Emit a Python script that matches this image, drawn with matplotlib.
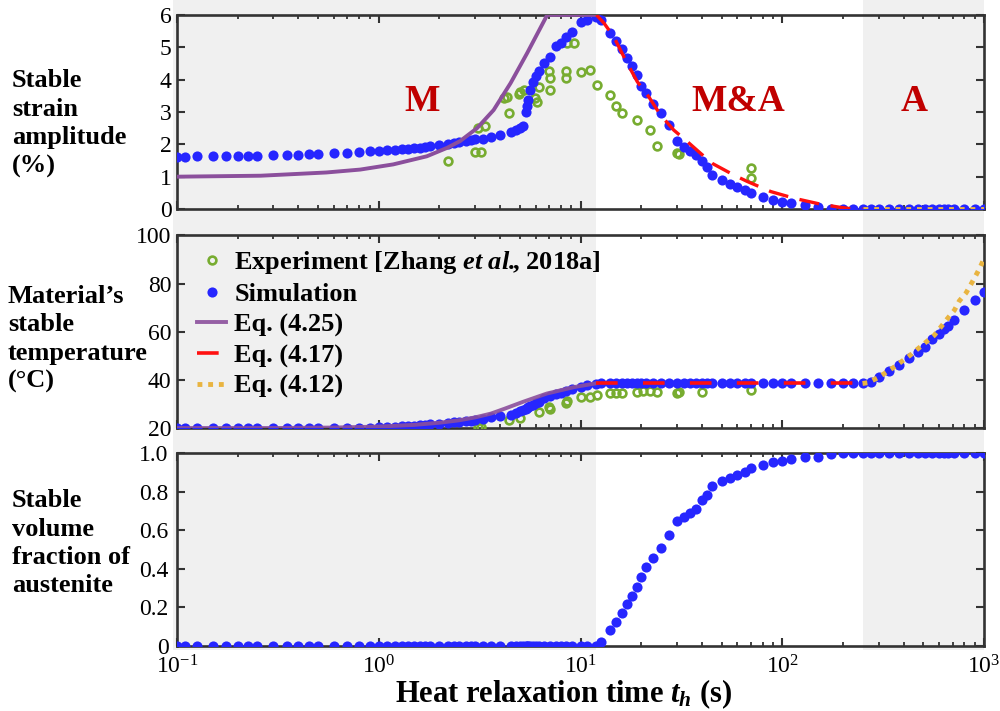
import numpy as np
import matplotlib
matplotlib.use("Agg")
import matplotlib.pyplot as plt
from matplotlib.ticker import FixedLocator, LogLocator, NullFormatter, FixedFormatter

plt.rcParams['font.family'] = ['Liberation Serif', 'DejaVu Serif']
plt.rcParams['mathtext.fontset'] = 'custom'
plt.rcParams['mathtext.rm'] = 'Liberation Serif'
plt.rcParams['mathtext.it'] = 'Liberation Serif:italic'
plt.rcParams['mathtext.bf'] = 'Liberation Serif:bold'
plt.rcParams['mathtext.bfit'] = 'Liberation Serif:italic:bold'

# ---------------- data ----------------
sim_t = [0.1, 0.11, 0.125, 0.15, 0.175, 0.2, 0.225, 0.25, 0.3, 0.35,
         0.4, 0.45, 0.5, 0.6, 0.7, 0.8, 0.9, 1.0, 1.1, 1.2,
         1.3, 1.4, 1.5, 1.6, 1.7, 1.8, 2.0, 2.2, 2.35, 2.5,
         2.7, 2.85, 3.0, 3.3, 3.6, 4.0, 4.5, 4.8, 5.0, 5.2,
         5.34, 5.4, 5.48, 5.61, 5.83, 6.0, 6.21, 6.62, 7.04, 7.52,
         7.96, 8.52, 9.09, 10.0, 10.8, 11.9, 12.6, 14.0, 15.0, 16.0,
         17.0, 18.0, 19.0, 20.0, 21.0, 23.0, 25.0, 27.5, 30.0, 32.5,
         35.0, 37.5, 40.0, 42.5, 45.0, 50.0, 55.0, 60.0, 65.0, 70.0,
         80.0, 90.0, 100, 110, 130, 150, 175, 200, 225, 250,
         275, 300, 340, 380, 425, 470, 510, 550, 600, 635,
         660, 710, 800, 900, 1000]
sim_strain = [1.62, 1.62, 1.63, 1.63, 1.64, 1.64, 1.65, 1.65, 1.66, 1.67,
              1.68, 1.69, 1.70, 1.72, 1.74, 1.76, 1.78, 1.80, 1.81, 1.83,
              1.85, 1.87, 1.89, 1.90, 1.92, 1.94, 1.97, 2.00, 2.03, 2.06,
              2.10, 2.12, 2.15, 2.18, 2.22, 2.28, 2.37, 2.44, 2.50, 2.57,
              3.00, 3.17, 3.37, 3.68, 3.94, 4.10, 4.28, 4.50, 4.71, 5.04,
              5.12, 5.33, 5.48, 5.79, 5.85, 5.93, 5.85, 5.45, 5.20, 4.94,
              4.66, 4.42, 4.14, 3.80, 3.58, 3.26, 2.96, 2.60, 2.10, 1.92,
              1.80, 1.66, 1.48, 1.30, 1.05, 0.91, 0.78, 0.69, 0.59, 0.49,
              0.38, 0.28, 0.23, 0.20, 0.11, 0.07, 0.01, 0.0, 0.0, 0.0,
              0.0, 0.0, 0.0, 0.0, 0.0, 0.0, 0.0, 0.0, 0.0, 0.0,
              0.0, 0.0, 0.0, 0.0, 0.0]
sim_temp = [20.0, 20.0, 20.0, 20.0, 20.0, 20.0, 20.0, 20.0, 20.0, 20.0,
            20.0, 20.0, 20.0, 20.0, 20.0, 20.1, 20.2, 20.3, 20.4, 20.6,
            20.7, 20.9, 21.0, 21.2, 21.4, 21.5, 21.8, 22.1, 22.3, 22.5,
            22.8, 23.0, 23.3, 23.8, 24.4, 25.0, 25.6, 26.4, 27.0, 27.5,
            28.0, 28.3, 28.6, 29.0, 29.6, 30.3, 31.0, 32.3, 33.3, 34.0,
            34.6, 35.5, 36.3, 37.1, 37.7, 38.4, 38.5, 38.5, 38.5, 38.5,
            38.5, 38.5, 38.5, 38.5, 38.5, 38.5, 38.5, 38.5, 38.5, 38.5,
            38.5, 38.5, 38.5, 38.5, 38.5, 38.5, 38.5, 38.5, 38.5, 38.5,
            38.5, 38.5, 38.5, 38.5, 38.5, 38.5, 38.5, 38.5, 38.5, 38.5,
            39.2, 41.3, 43.8, 46.1, 48.9, 51.6, 53.7, 56.8, 59.2, 61.3,
            62.3, 64.8, 68.9, 73.1, 76.5]
sim_frac = [0.0] * 56 + [
            0.02, 0.083, 0.126, 0.173,
            0.218, 0.261, 0.307, 0.359, 0.408, 0.454, 0.506, 0.575, 0.649, 0.670,
            0.691, 0.711, 0.756, 0.782, 0.829, 0.857, 0.872, 0.886, 0.903, 0.924,
            0.938, 0.955, 0.960, 0.967, 0.978, 0.981, 0.995, 1.0, 1.0, 1.0,
            1.0, 1.0, 1.0, 1.0, 1.0, 1.0, 1.0, 1.0, 1.0, 1.0,
            1.0, 1.0, 1.0, 1.0, 1.0]

exp_t_strain = [2.2, 3.0, 3.2, 3.1, 3.35, 4.2, 4.33, 4.4, 4.94, 5.0,
                5.24, 5.98, 6.1, 6.21, 6.96, 7.1, 7.04, 8.43, 8.43, 8.6,
                9.27, 10.1, 11.1, 12.1, 14.0, 15.0, 16.1, 19.1, 22.2, 24.0,
                30.2, 30.8, 69.8, 69.8]
exp_strain = [1.48, 1.75, 1.75, 2.50, 2.57, 3.43, 3.47, 2.96, 3.56, 3.63,
              3.68, 3.42, 3.30, 3.76, 4.28, 4.04, 3.68, 4.28, 4.04, 5.12,
              5.12, 4.25, 4.30, 3.84, 3.53, 3.17, 2.96, 2.75, 2.44, 1.96,
              1.74, 1.70, 1.26, 0.95]
exp_t_temp = [3.1, 3.2, 4.4, 5.0, 6.2, 6.96, 7.1, 8.43, 8.6, 10.1,
              11.1, 12.1, 14.0, 15.0, 16.1, 19.1, 20.5, 22.2, 24.0, 30.2,
              30.8, 40.2, 69.8]
exp_temp = [20.3, 20.6, 23.3, 24.0, 26.8, 28.8, 27.8, 30.5, 31.2, 33.0,
            33.0, 33.7, 34.4, 34.4, 34.4, 34.8, 35.3, 35.5, 35.0, 34.4,
            35.0, 35.0, 35.7]

eq425_t_strain = [0.1, 0.26, 0.55, 0.81, 1.18, 1.73, 2.18, 2.53, 3.07, 3.71, 4.5, 5.44, 6.84, 12.0]
eq425_strain = [1.0, 1.03, 1.13, 1.22, 1.38, 1.63, 1.89, 2.1, 2.5, 3.06, 3.89, 4.82, 6.0, 6.0]
eq425_t_temp = [0.1, 0.3, 0.6, 1.0, 1.5, 2.0, 2.5, 3.0, 3.6, 4.2, 5.2, 6.8, 9.3, 12.0]
eq425_temp = [20.0, 20.0, 20.2, 20.6, 21.3, 22.2, 23.2, 24.4, 26.0, 28.0, 30.9, 34.3, 37.0, 38.6]

eq417_t_strain = [12.0, 13.1, 14.6, 16.7, 19.1, 21.8, 24.9, 29.0, 33.2, 39.4,
                  45.0, 57.6, 67.2, 87.7, 115, 155, 195, 225, 250]
eq417_strain = [6.0, 5.74, 5.33, 4.61, 3.94, 3.47, 2.91, 2.44, 2.13, 1.72,
                1.41, 1.05, 0.85, 0.54, 0.33, 0.15, 0.05, 0.0, 0.0]
eq417_t_temp = [12.0, 250]
eq417_temp = [38.5, 38.5]

eq412_t_strain = [250, 1000]
eq412_strain = [0.0, 0.0]
eq412_t_temp = [250, 265, 300, 360, 430, 506, 567, 612, 660, 713, 755, 815, 862, 912, 959, 1000]
eq412_temp = [38.5, 38.8, 41.0, 45.4, 50.2, 55.1, 58.5, 62.0, 65.5, 68.9, 72.8, 76.1, 79.7, 83.4, 86.9, 90.3]

region_bounds = [0.1, 12.0, 250.0, 1000.0]
region_names = ['M', 'M&A', 'A']

# ---------------- styles ----------------
C_EXP = '#77AC30'
C_SIM = '#2626FF'
C_425 = '#8B4F9C'
C_417 = '#FF1010'
C_412 = '#E9B440'
C_REG = '#C00000'
C_SPINE = '#333333'
GRAY = '#F0F0F0'

fig = plt.figure(figsize=(10, 7.11), dpi=100)
L, W = 0.177, 0.807
pos = [[L, 0.706, W, 0.273], [L, 0.398, W, 0.271], [L, 0.0914, W, 0.2716]]

# background shading axes
bg = fig.add_axes([L, 0.086, W, 0.914], zorder=0)
bg.set_xscale('log')
bg.set_xlim(0.1, 1000)
bg.set_ylim(0, 1)
bg.axis('off')
bg.axvspan(0.0955, region_bounds[1], color=GRAY, lw=0, clip_on=False)
bg.axvspan(region_bounds[2], region_bounds[3], color=GRAY, lw=0)

axes = [fig.add_axes(p, zorder=2) for p in pos]
for ax in axes:
    ax.set_facecolor('none')
    ax.set_xscale('log')
    ax.set_xlim(0.1, 1000)
    for s in ax.spines.values():
        s.set_color(C_SPINE)
        s.set_linewidth(1.9)
    ax.tick_params(which='both', direction='in', top=True, right=True,
                   color=C_SPINE, labelsize=17, pad=4)
    ax.tick_params(which='major', length=6, width=1.5)
    ax.tick_params(which='minor', length=3, width=1.3)
    ax.xaxis.set_major_locator(LogLocator(base=10, numticks=10))
    ax.xaxis.set_minor_locator(LogLocator(base=10, subs=np.arange(2, 10), numticks=10))
    ax.xaxis.set_minor_formatter(NullFormatter())

ms_sim = 7.3
ms_exp = 5.6
mew_exp = 1.9

# top panel: strain amplitude
ax = axes[0]
ax.plot(exp_t_strain, exp_strain, 'o', mfc='none', mec=C_EXP, mew=mew_exp, ms=ms_exp, zorder=3)
ax.plot(sim_t, sim_strain, 'o', color=C_SIM, ms=ms_sim, mew=0, zorder=4)
ax.plot(eq425_t_strain, eq425_strain, '-', color=C_425, lw=2.8, zorder=5)
ax.plot(eq417_t_strain, eq417_strain, color=C_417, lw=2.4, dashes=(6, 3.5), zorder=6)
ax.plot(eq412_t_strain, eq412_strain, color=C_412, lw=3.5, dashes=(1, 1.2), zorder=7)
ax.set_ylim(0, 6)
ax.yaxis.set_major_locator(FixedLocator([0, 1, 2, 3, 4, 5, 6]))
ax.tick_params(labelbottom=False)
region_x = [1.64, 60.8, 450]
for rx, name in zip(region_x, region_names):
    ax.text(rx, 3.33, name, color=C_REG, fontsize=27, fontweight='bold',
            ha='center', va='center', zorder=8)

# middle panel: temperature
ax = axes[1]
ax.plot(exp_t_temp, exp_temp, 'o', mfc='none', mec=C_EXP, mew=mew_exp, ms=ms_exp, zorder=3,
        label=r'Experiment [Zhang $\mathbfit{et\ al.}\!\!\mathbf{,}$ 2018a]')
ax.plot(sim_t, sim_temp, 'o', color=C_SIM, ms=ms_sim, mew=0, zorder=4, label='Simulation')
ax.plot(eq425_t_temp, eq425_temp, '-', color=C_425, lw=2.8, alpha=0.9, zorder=5, label='Eq. (4.25)')
ax.plot(eq417_t_temp, eq417_temp, color=C_417, lw=2.6, dashes=(6, 7), zorder=6, label='Eq. (4.17)')
ax.plot(eq412_t_temp, eq412_temp, color=C_412, lw=3.5, dashes=(1, 1.2), zorder=7, label='Eq. (4.12)')
ax.set_ylim(20, 100)
ax.yaxis.set_major_locator(FixedLocator([20, 40, 60, 80, 100]))
ax.tick_params(labelbottom=False)
leg = ax.legend(loc='upper left', bbox_to_anchor=(0.012, 0.985), frameon=False,
                prop={'weight': 'bold', 'size': 19}, handlelength=1.1,
                handletextpad=0.3, labelspacing=0.26, borderaxespad=0.2,
                borderpad=0.2)

# bottom panel: volume fraction
ax = axes[2]
ax.plot(sim_t, sim_frac, 'o', color=C_SIM, ms=ms_sim, mew=0, zorder=4)
ax.set_ylim(0, 1.0)
ax.yaxis.set_major_locator(FixedLocator([0, 0.2, 0.4, 0.6, 0.8, 1.0]))
ax.yaxis.set_major_formatter(FixedFormatter(['0', '0.2', '0.4', '0.6', '0.8', '1.0']))
ax.tick_params(axis='x', pad=6.5)
ax.tick_params(axis='y', pad=6)

# y labels
lab_kw = dict(fontsize=19, fontweight='bold', ha='left', va='center', linespacing=1.3)
fig.text(0.012, 0.826, 'Stable\nstrain\namplitude\n(%)', **lab_kw)
fig.text(0.008, 0.523, 'Material\u2019s\nstable\ntemperature\n(\u00b0C)', **lab_kw)
fig.text(0.012, 0.236, 'Stable\nvolume\nfraction of\naustenite', **lab_kw)

fig.text(0.564, 0.0, r'Heat relaxation time $\mathbfit{t}_{\mathbfit{h}}$ (s)',
         fontsize=22, fontweight='bold', ha='center', va='bottom')

fig.savefig('out.png', dpi=100)
